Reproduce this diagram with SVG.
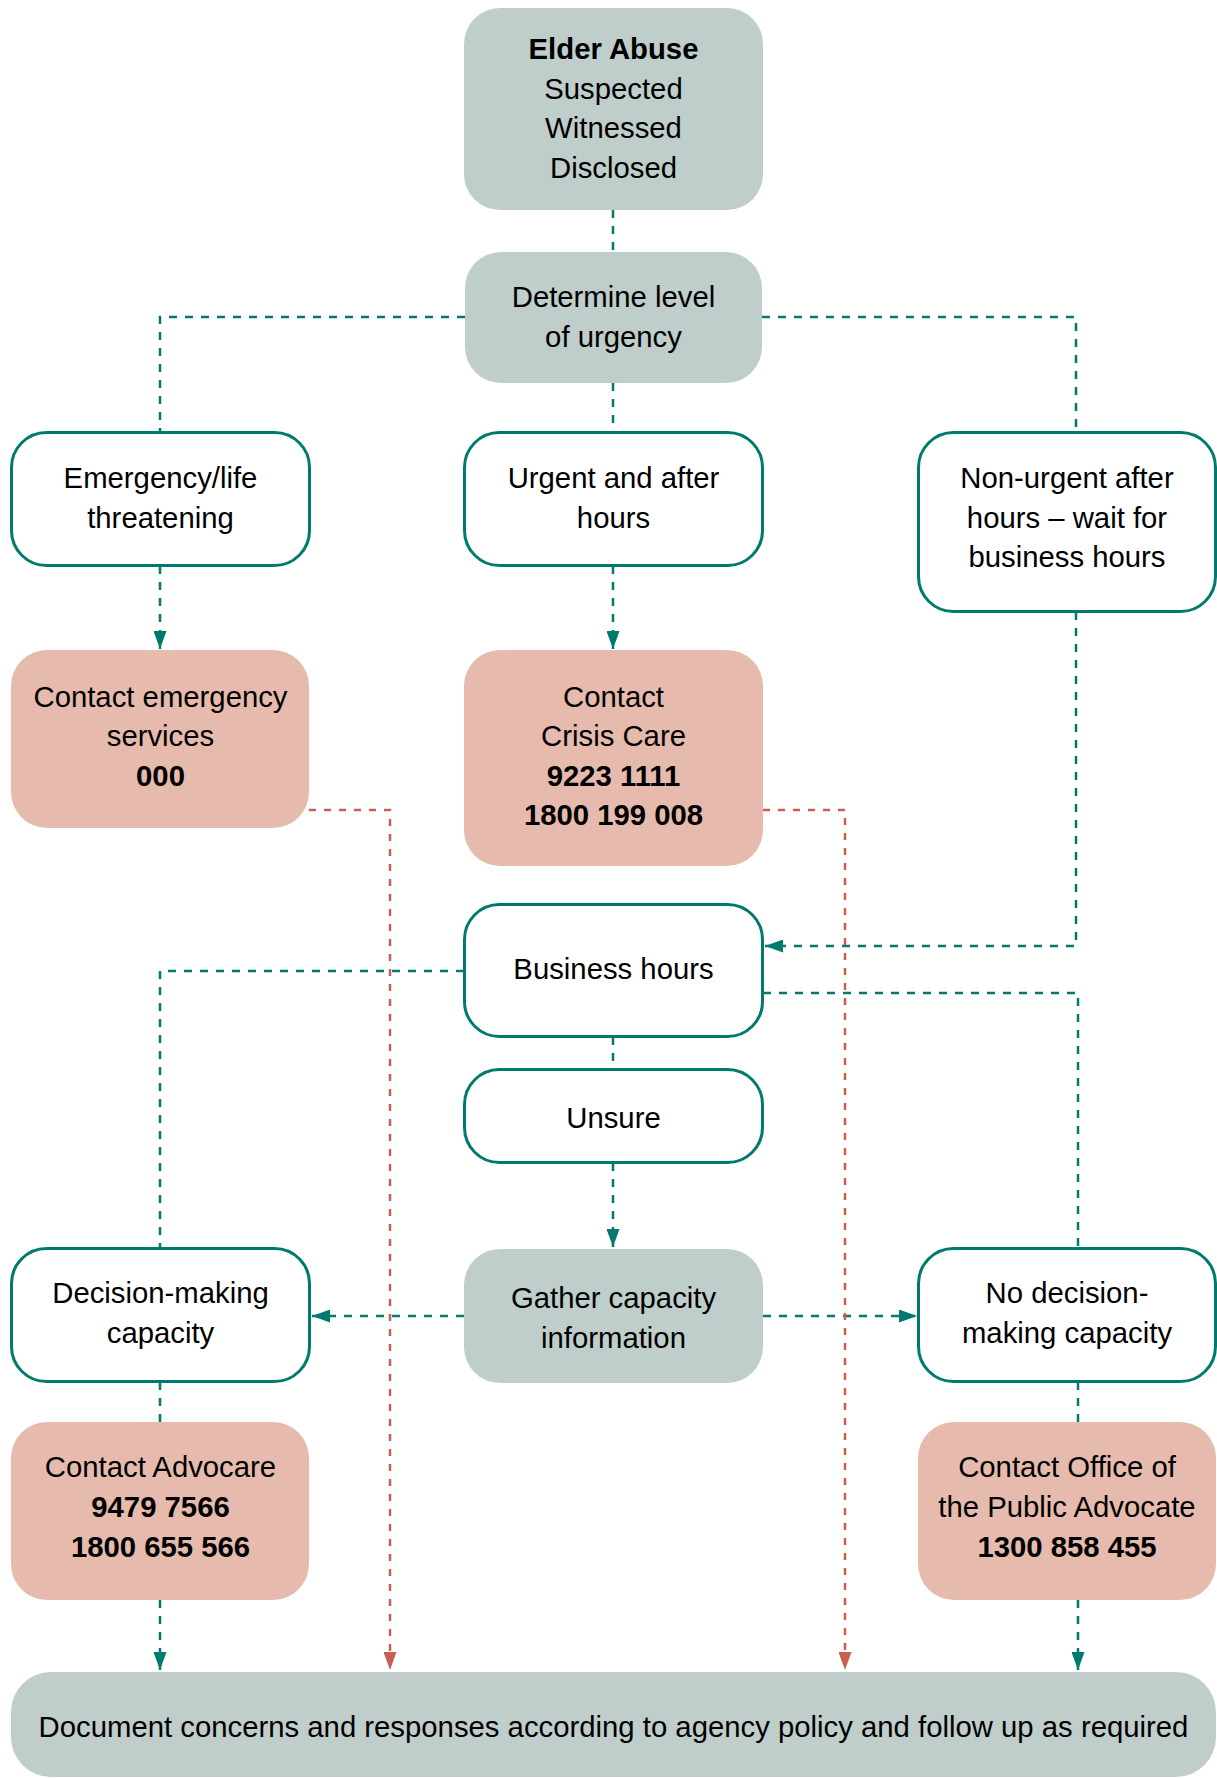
<svg xmlns="http://www.w3.org/2000/svg" width="1217" height="1778" viewBox="0 0 1217 1778">
<style>
text{font-family:"Liberation Sans",Arial,Helvetica,sans-serif;font-size:29.3px;fill:#000;text-anchor:middle}
.b{font-weight:bold}
.grey{fill:#BFCDCB}
.salmon{fill:#E6BBAD}
.white{fill:#fff;stroke:#007A6E;stroke-width:3}
.c{fill:none;stroke:#007A6E;stroke-width:2.5;stroke-dasharray:8 8}
.r{fill:none;stroke:#C95F50;stroke-width:2.5;stroke-dasharray:7 8}
</style>
<defs>
<marker id="at" viewBox="0 0 18 13" refX="18" refY="6.5" markerWidth="18" markerHeight="13" markerUnits="userSpaceOnUse" orient="auto">
<path d="M0,0 L18,6.5 L0,13 Z" fill="#007A6E"/>
</marker>
<marker id="ar" viewBox="0 0 18 13" refX="18" refY="6.5" markerWidth="18" markerHeight="13" markerUnits="userSpaceOnUse" orient="auto">
<path d="M0,0 L18,6.5 L0,13 Z" fill="#C95F50"/>
</marker>
</defs>
<rect width="1217" height="1778" fill="#fff"/>
<g id="connectors">
<path class="c" d="M613,210 V252"/>
<path class="c" d="M465,317 H160 V432"/>
<path class="c" d="M762,317 H1076 V432"/>
<path class="c" d="M613,383 V432"/>
<path class="c" d="M160,566 V649" marker-end="url(#at)"/>
<path class="c" d="M613,566 V649" marker-end="url(#at)"/>
<path class="c" d="M1076,612 V946 H765" marker-end="url(#at)"/>
<path class="c" d="M464,971 H160 V1247"/>
<path class="c" d="M763,993 H1078 V1247"/>
<path class="c" d="M613,1037 V1069"/>
<path class="c" d="M613,1163 V1247" marker-end="url(#at)"/>
<path class="c" d="M464,1316 H312" marker-end="url(#at)"/>
<path class="c" d="M763,1316 H917" marker-end="url(#at)"/>
<path class="c" d="M160,1382 V1422"/>
<path class="c" d="M1078,1382 V1422"/>
<path class="c" d="M160,1600 V1670" marker-end="url(#at)"/>
<path class="c" d="M1078,1600 V1670" marker-end="url(#at)"/>
<path class="r" d="M309,810 H390 V1670" marker-end="url(#ar)"/>
<path class="r" d="M763,810 H845 V1670" marker-end="url(#ar)"/>
</g>
<g id="elder">
<rect class="grey" x="464" y="8" width="299" height="202" rx="36"/>
<text x="613.5" y="59" class="b">Elder Abuse</text>
<text x="613.5" y="99">Suspected</text>
<text x="613.5" y="138">Witnessed</text>
<text x="613.5" y="178">Disclosed</text>
</g>
<g id="determine">
<rect class="grey" x="465" y="252" width="297" height="131" rx="36"/>
<text x="613.5" y="307">Determine level</text>
<text x="613.5" y="347">of urgency</text>
</g>
<g id="emergency">
<rect class="white" x="11.5" y="432.5" width="298" height="133" rx="35"/>
<text x="160.5" y="488">Emergency/life</text>
<text x="160.5" y="528">threatening</text>
</g>
<g id="urgent">
<rect class="white" x="464.5" y="432.5" width="298" height="133" rx="35"/>
<text x="613.5" y="488">Urgent and after</text>
<text x="613.5" y="528">hours</text>
</g>
<g id="nonurgent">
<rect class="white" x="918.5" y="432.5" width="297" height="179" rx="35"/>
<text x="1067" y="488">Non-urgent after</text>
<text x="1067" y="528">hours – wait for</text>
<text x="1067" y="567">business hours</text>
</g>
<g id="contact-emergency">
<rect class="salmon" x="11" y="650" width="298" height="178" rx="36"/>
<text x="160.5" y="707">Contact emergency</text>
<text x="160.5" y="746">services</text>
<text x="160.5" y="786" class="b">000</text>
</g>
<g id="crisis">
<rect class="salmon" x="464" y="650" width="299" height="216" rx="36"/>
<text x="613.5" y="707">Contact</text>
<text x="613.5" y="746">Crisis Care</text>
<text x="613.5" y="786" class="b">9223 1111</text>
<text x="613.5" y="825" class="b">1800 199 008</text>
</g>
<g id="business">
<rect class="white" x="464.5" y="904.5" width="298" height="132" rx="35"/>
<text x="613.5" y="979">Business hours</text>
</g>
<g id="unsure">
<rect class="white" x="464.5" y="1069.5" width="298" height="93" rx="35"/>
<text x="613.5" y="1128">Unsure</text>
</g>
<g id="gather">
<rect class="grey" x="464" y="1249" width="299" height="134" rx="36"/>
<text x="613.5" y="1308">Gather capacity</text>
<text x="613.5" y="1348">information</text>
</g>
<g id="decision">
<rect class="white" x="11.5" y="1248.5" width="298" height="133" rx="35"/>
<text x="160.5" y="1303">Decision-making</text>
<text x="160.5" y="1343">capacity</text>
</g>
<g id="nodecision">
<rect class="white" x="918.5" y="1248.5" width="297" height="133" rx="35"/>
<text x="1067" y="1303">No decision-</text>
<text x="1067" y="1343">making capacity</text>
</g>
<g id="advocare">
<rect class="salmon" x="11" y="1422" width="298" height="178" rx="36"/>
<text x="160.5" y="1477">Contact Advocare</text>
<text x="160.5" y="1517" class="b">9479 7566</text>
<text x="160.5" y="1557" class="b">1800 655 566</text>
</g>
<g id="publicadvocate">
<rect class="salmon" x="918" y="1422" width="298" height="178" rx="36"/>
<text x="1067" y="1477">Contact Office of</text>
<text x="1067" y="1517">the Public Advocate</text>
<text x="1067" y="1557" class="b">1300 858 455</text>
</g>
<g id="document">
<rect class="grey" x="11" y="1672" width="1205" height="105" rx="40"/>
<text x="613.5" y="1737">Document concerns and responses according to agency policy and follow up as required</text>
</g>
</svg>
